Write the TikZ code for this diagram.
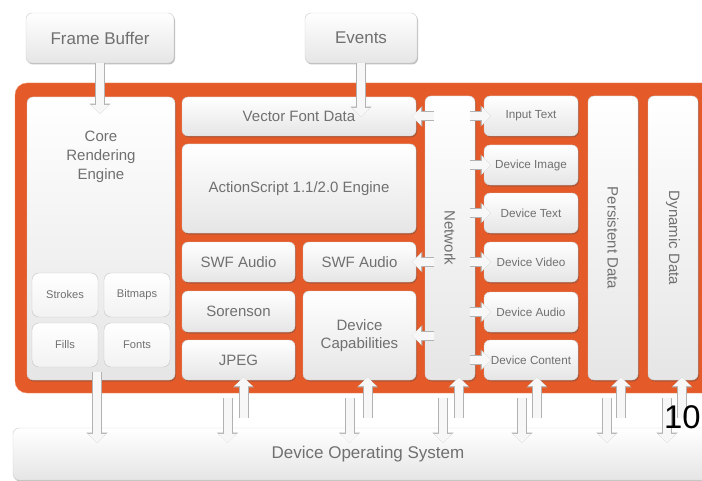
\documentclass[tikz,border=0pt]{standalone}
\usepackage{fontspec}
\setmainfont{Liberation Sans}
\usetikzlibrary{arrows.meta,shadows,calc}
\newdimen\px \px=0.03cm
\definecolor{flashorange}{RGB}{228,90,40}
\definecolor{flashlight}{RGB}{240,140,100}
\definecolor{boxtext}{RGB}{112,112,112}
\tikzset{
  box/.style={draw=black!18, rounded corners=6\px, top color=white, bottom color=black!10,
    text=boxtext, font=\fontsize{12.8}{15.4}\selectfont, align=center, inner sep=0pt,
    drop shadow={shadow xshift=1\px, shadow yshift=-1.5\px, opacity=.35, fill=black!70}},
  smalltext/.style={font=\fontsize{10}{12}\selectfont},
  bigtext/.style={font=\fontsize{14.5}{17}\selectfont},
  cell/.style={draw=black!22, rounded corners=7\px, top color=white, bottom color=black!5,
    text=boxtext, font=\fontsize{9.5}{11}\selectfont, minimum width=66\px, minimum height=44\px, inner sep=0pt},
  fat/.style={draw=black!3, line width=8\px, -{Triangle[width=15pt,length=7.5pt]},
    preaction={draw=black!30, line width=10\px, -{Triangle[width=17.5pt,length=8.7pt]}}}
}
\begin{document}
\begin{tikzpicture}[x=0.03cm, y=-0.03cm]
  \useasboundingbox (0,0) rectangle (702,481);
  \fill[white] (0,0) rectangle (702,481);
  \node[box, bigtext, minimum width=148\px, minimum height=50\px] (fb) at (100,38) {Frame Buffer};
  \node[box, bigtext, minimum width=112\px, minimum height=50\px] (events) at (361,38) {Events};
  \draw[flashlight, fill=flashorange, rounded corners=12\px] (15,83) rectangle (730,393);
  % core
  \node[box, minimum width=148\px, minimum height=283\px] (core) at (101,238.5) {};
  \node[text=boxtext, font=\fontsize{12.8}{16.2}\selectfont, align=center] (coretxt) at (101,157) {Core\\Rendering\\Engine};
  \node[cell] (strokes) at (65,295) {Strokes};
  \node[cell] (bitmaps) at (137,295) {Bitmaps};
  \node[cell] (fills) at (65,345) {Fills};
  \node[cell] (fonts) at (137,345) {Fonts};
  % player
  \node[box, minimum width=234\px, minimum height=39\px] (vfd) at (299,116.5) {Vector Font Data};
  \node[box, minimum width=234\px, minimum height=89\px] (as) at (299,188.5) {ActionScript 1.1/2.0 Engine};
  \node[box, minimum width=113\px, minimum height=40\px] (swfa) at (238.5,262) {SWF Audio};
  \node[box, minimum width=113\px, minimum height=40\px] (swfb) at (359.5,262) {SWF Audio};
  \node[box, minimum width=113\px, minimum height=41\px] (sor) at (238.5,311.5) {Sorenson};
  \node[box, minimum width=113\px, minimum height=40\px] (jpeg) at (238.5,360) {JPEG};
  \node[box, minimum width=113\px, minimum height=89\px] (devcap) at (359.5,335.5) {Device\\Capabilities};
  % columns
  \node[box, minimum width=50\px, minimum height=284\px] (net) at (450,238) {};
  \node[text=boxtext, font=\fontsize{12.8}{15}\selectfont, rotate=-90] (nettxt) at (net) {Network};
  \node[box, minimum width=50\px, minimum height=284\px] (pers) at (613,238) {};
  \node[text=boxtext, font=\fontsize{12.8}{15}\selectfont, rotate=-90] (perstxt) at (pers) {Persistent Data};
  \node[box, minimum width=50\px, minimum height=284\px] (dyn) at (673,238) {};
  \node[text=boxtext, font=\fontsize{12.8}{15}\selectfont, rotate=-90] (dyntxt) at (dyn) {Dynamic Data};
  \node[box, bigtext, minimum width=710\px, minimum height=52\px] (os) at (368,454) {Device Operating System};
  \foreach \n/\t/\y in {intext/Input Text/116, devimg/Device Image/165, devtxt/Device Text/213,
      devvid/Device Video/262, devaud/Device Audio/312, devcon/Device Content/360} {
    \node[box, smalltext, minimum width=94\px, minimum height=40\px] (\n) at (531,\y) {\t};
    \draw[fat] ($(\n.west -| net.east)+(-5,0)$) -- ($(\n.west)+(7,0)$);
  }
  \foreach \b in {vfd, swfb, devcap}
    \draw[fat] ($(\b.east -| net.west)+(9,0)$) -- ($(\b.east)+(-4,0)$);
  \draw[fat] (fb.south) -- ($(fb.south |- core.north)+(0,17)$);
  \draw[fat] (events.south) -- ($(events.south |- vfd.north)+(0,20)$);
  \draw[fat] ($(core.south)+(-4,-8)$) -- ($(core.south |- os.north)+(-4,15)$);
  \foreach \b/\d/\u in {jpeg/-11/5, devcap/-10/8, net/-7/9, devcon/-9/6, pers/-6/8, dyn/-6/9} {
    \draw[fat] ($(\b.south)+(\d,18)$) -- ($(\b.south |- os.north)+(\d,15)$);
    \draw[fat] ($(\b.south |- os.north)+(\u,-10)$) -- ($(\b.south)+(\u,-3)$);
  }
  \node[anchor=base west, font=\fontsize{28}{28}\selectfont, inner sep=0pt] (pagenum) at (664,428) {10};
\end{tikzpicture}
\end{document}
